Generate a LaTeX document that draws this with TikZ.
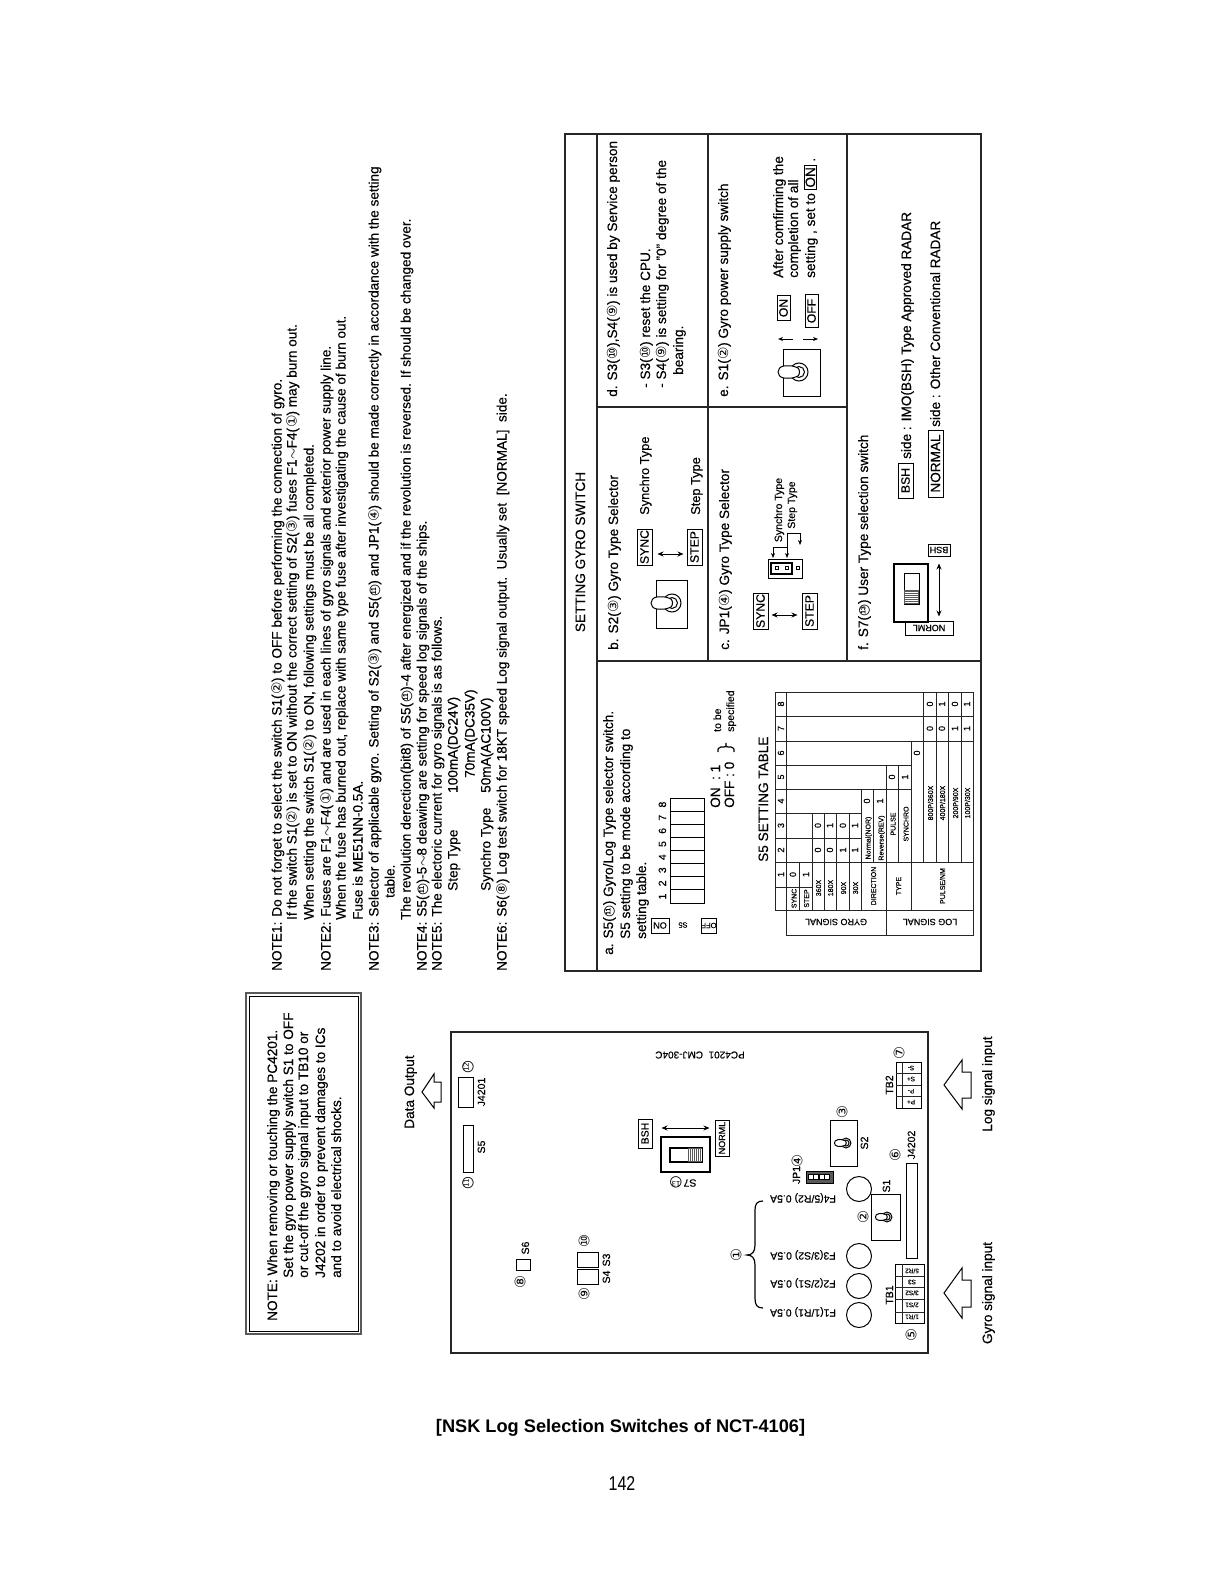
\documentclass[tikz,border=0pt]{standalone}
\usepackage{fontspec}
\setmainfont[FakeBold=0.35]{Liberation Sans}
\newfontfamily\djf{DejaVu Sans}
\newfontfamily\plainf{Liberation Sans}
\usetikzlibrary{arrows.meta}
\newcounter{tn}
\newcommand\fn{\fontsize{13.6}{15}\selectfont}
\newcommand\fl{\fontsize{13.8}{15}\selectfont}
\newcommand\fs{\fontsize{10.5}{12}\selectfont}
\newcommand\fx{\fontsize{9}{10}\selectfont}
\newcommand\ft{\fontsize{7}{8}\selectfont}
\newcommand\cn[1]{{\djf\scalebox{1.02}{#1}}}
\newcommand\cnn[1]{{\ooalign{{\djf\scalebox{1.02}{○}}\cr\hfil\raisebox{.2em}{\scalebox{.5}{#1}}\hfil\cr}}}
\newcommand\rv[1]{\rotatebox{90}{#1}}
\newcommand\ud[1]{\rotatebox{180}{#1}}
\newcommand\ib[1]{\setlength{\fboxsep}{1pt}\setlength{\fboxrule}{.8pt}\fbox{#1}}
\tikzset{
 x=1pt,y=-1pt,
 rtxt/.style={rotate=90,anchor=base west,inner sep=0pt,font=\fn},
 rtxc/.style={rotate=90,anchor=base,inner sep=0pt,font=\fs},
 udtx/.style={rotate=180,anchor=center,inner sep=0pt,font=\fs},
 circn/.style={rotate=90,anchor=center,inner sep=0pt,font=\fontsize{14.5}{15}\selectfont},
 boxn/.style={draw,rectangle,inner sep=0pt,line width=1pt,font=\fontsize{12.2}{14}\selectfont},
 frame/.style={line width=1.2pt,black!85},
 thin1/.style={line width=.8pt,black!85},
 dbl/.style={{Stealth[length=6pt,width=5pt]}-{Stealth[length=6pt,width=5pt]},line width=.9pt},
 sarr/.style={-{Stealth[length=5pt,width=4pt]},line width=.7pt},
 big/.style={line width=1pt,fill=white},
}
\newcommand\RT[4][]{\stepcounter{tn}\node[rtxt,#1] (t\arabic{tn}) at (#2,#3) {#4};}
\newcommand\RC[4][]{\stepcounter{tn}\node[rtxc,#1] (t\arabic{tn}) at (#2,#3) {#4};}
\newcommand\UD[4][]{\stepcounter{tn}\node[udtx,#1] (t\arabic{tn}) at (#2,#3) {#4};}
\newcommand\CC[4][]{\stepcounter{tn}\node[circn,#1] (t\arabic{tn}) at (#2,#3) {\djf #4};}
\newcommand\BX[7][]{\pgfmathsetmacro\bxw{#5-#3}\pgfmathsetmacro\bxh{#6-#4}%
 \node[boxn,minimum width=\bxw pt,minimum height=\bxh pt,#1] (#2) at ({(#3+#5)/2},{(#4+#6)/2}) {#7};}
\newcommand\toggle[3]{\begin{scope}[shift={(#1,#2)},scale=#3]
 \draw[line width=1pt] (0,0) circle (9);
 \draw[line width=1pt] (0,0) circle (5.5);
 \draw[line width=1pt,fill=white] (-1,-4) .. controls (-6,-6.5) and (-10,-6.5) .. (-15,-6) .. controls (-23,-5) and (-23,5) .. (-15,6) .. controls (-10,6.5) and (-6,6.5) .. (-1,4) .. controls (1,2) and (1,-2) .. (-1,-4) -- cycle;
\end{scope}}
\begin{document}
\begin{tikzpicture}
\useasboundingbox (0,0) rectangle (1221,1578);
\fill[white] (0,0) rectangle (1221,1578);
% ---------- warning note
\BX[line width=1.6pt,draw=black!65]{noteo}{246}{993}{361}{1334}{}
\BX[line width=.8pt]{notei}{249}{996}{358}{1331}{}
\begin{scope}[every node/.append style={font=\fl}]
\RT{277}{1321}{NOTE: When removing or touching the PC4201.}
\RT{293}{1278}{Set the gyro power supply switch S1 to OFF}
\RT{308}{1278}{or cut-off the gyro signal input to TB10 or}
\RT{325}{1278}{J4202 in order to prevent damages to ICs}
\RT{341}{1278}{and to avoid electrical shocks.}
\end{scope}
% ---------- notes
\begin{scope}[xshift=-1.5pt,yshift=-3pt]
\RT{283}{968}{NOTE1: Do not forget to select the switch S1(\cn{②}) to OFF before performing the connection of gyro.}
\RT{298}{917}{If the switch S1(\cn{②}) is set to ON without the correct setting of S2(\cn{③}) fuses F1$\sim$F4(\cn{①}) may burn out.}
\RT{315}{917}{When setting the switch S1(\cn{②}) to ON, following settings must be all completed.}
\RT{332}{968}{NOTE2: Fuses are F1$\sim$F4(\cn{①}) and are used in each lines of gyro signals and exterior power supply line.}
\RT{347}{917}{When the fuse has burned out, replace with same type fuse after investigating the cause of burn out.}
\RT{364}{917}{Fuse is ME51NN-0.5A.}
\RT{380}{968}{NOTE3: Selector of applicable gyro. Setting of S2(\cn{③}) and S5(\cnn{11}) and JP1(\cn{④}) should be made correctly in accordance with the setting}
\RT{396}{895}{table.}
\RT{412}{917}{The revolution derection(bit8) of S5(\cnn{11})-4 after energized and if the revolution is reversed. If should be changed over.}
\RT{428}{968}{NOTE4: S5(\cnn{11})-5$\sim$8 deawing are setting for speed log signals of the ships.}
\RT{443}{968}{NOTE5: The electoric current for gyro signals is as follows.}
\RT{459}{888}{Step Type}
\RT{459}{790}{100mA(DC24V)}
\RT{476}{775}{70mA(DC35V)}
\RT{492}{888}{Synchro Type}
\RT{492}{790}{50mA(AC100V)}
\RT{508}{968}{NOTE6: S6(\cn{⑧}) Log test switch for 18KT speed Log signal output.\ \ Usually set\ \ [NORMAL]\ \ side.}
\end{scope}
% ---------- board
\BX[frame]{board}{451}{1032}{928}{1353}{}
\RC[font=\fn]{414}{1092}{Data Output}
\draw[big] (422,1092) -- (434,1074) -- (434,1082) -- (441,1082) -- (441,1102) -- (434,1102) -- (434,1108) -- cycle;
\BX{j4201}{458}{1077}{473}{1107}{}
\RC{485}{1092}{J4201}
\CC{467}{1067}{\cnn{12}}
\BX{s5b}{463}{1125}{473}{1172}{}
\RC{485}{1147}{S5}
\CC{467}{1183}{\cnn{11}}
\UD[font=\fontsize{10}{10}\selectfont]{700}{1055}{PC4201\ \ CMJ-304C}
\BX[font=\fs]{bshb}{638}{1119}{652}{1148}{\rv{BSH}}
\BX[font=\fx]{normb}{715}{1120}{729}{1156}{\rv{NORML}}
\coordinate (s7y) at (0,1128);
\draw[dbl,shorten <=9pt,shorten >=5pt] (bshb.east |- s7y) -- (normb.west |- s7y);
\BX[line width=1.2pt]{s7b}{661}{1137}{710}{1172}{}
\BX[line width=1.2pt]{s7bi}{670}{1148}{702}{1162}{}
\fill[black!65] (688,1148) rectangle (702,1162);
\foreach \q in {689.5,691.5,...,701.5}{\draw[white,line width=.4pt] (\q,1149) -- (\q,1161);}
\UD{690}{1183}{S7}
\CC[rotate=90]{676}{1183}{\cnn{13}}
\BX{s6b}{516}{1259}{530}{1270}{}
\RC{529}{1248}{S6}
\CC{520}{1282}{⑧}
\BX{s3b}{577}{1252}{598}{1267}{}
\BX{s4b}{577}{1269}{598}{1284}{}
\RC{610}{1260}{S3}
\RC{610}{1277}{S4}
\CC{584}{1241}{⑩}
\CC{584}{1294}{⑨}
\CC{736}{1255}{①}
\draw[line width=1.2pt] (763,1201) .. controls (757,1201) and (755,1204) .. (755,1210) -- (755,1245) .. controls (755,1252) and (752,1255) .. (747,1255) .. controls (752,1255) and (755,1258) .. (755,1265) -- (755,1298) .. controls (755,1305) and (757,1308) .. (763,1308);
\UD{803}{1198}{F4(5/R2) 0.5A}
\UD{803}{1255}{F3(3/S2) 0.5A}
\UD{803}{1283}{F2(2/S1) 0.5A}
\UD{803}{1312}{F1(1/R1) 0.5A}
\foreach \nm/\yy in {f4/1189,f3/1256,f2/1286,f1/1315}{\node[draw,circle,line width=1pt,minimum size=25pt,inner sep=0pt] (\nm) at (859,\yy) {};}
\BX{s1b}{871}{1194}{900}{1240}{}
\toggle{887}{1217}{.55}
\RC{890}{1186}{S1}
\CC{863}{1217}{②}
\BX{s2b}{830}{1120}{857}{1166}{}
\toggle{846}{1143}{.55}
\RC{868}{1143}{S2}
\CC{842}{1112}{③}
\BX[fill=black!65,line width=.8pt]{jp1b}{806}{1171}{833}{1183}{}
\foreach \q in {808,813.5,819,824.5}{\draw[fill=white,line width=.5pt] (\q,1174.5) rectangle +(5,5);}
\RC{800}{1175}{JP1}
\CC{797}{1161}{④}
\BX{j4202b}{906}{1163}{917}{1258}{}
\RC{915}{1145}{J4202}
\CC{895}{1155}{⑥}
\BX{tb1}{895}{1264}{924}{1323}{}
\draw[thin1] (902,1264) -- (902,1323);
\foreach \q in {1276,1287,1299,1312}{\draw[thin1] (895,\q) -- (924,\q);}
\foreach \q/\w in {1271/{5/R2},1282/{S3},1293/{3/S2},1305/{2/S1},1317/{1/R1}}{\UD[font=\fontsize{6.5}{7}\selectfont]{912}{\q}{\w}}
\RC{893}{1295}{TB1}
\CC{911}{1335}{⑤}
\BX{tb2}{896}{1062}{921}{1108}{}
\draw[thin1] (902,1062) -- (902,1108);
\foreach \q in {1073,1085,1096}{\draw[thin1] (896,\q) -- (921,\q);}
\foreach \q/\w in {1068/S-,1079/S+,1091/P-,1102/P+}{\UD[font=\fontsize{6.5}{7}\selectfont]{911}{\q}{\w}}
\RC{893}{1085}{TB2}
\CC{899}{1053}{⑦}
\draw[big] (944,1085) -- (962,1060) -- (962,1072) -- (971,1072) -- (971,1098) -- (962,1098) -- (962,1109) -- cycle;
\draw[big] (944,1293) -- (962,1268) -- (962,1280) -- (971,1280) -- (971,1307) -- (962,1307) -- (962,1318) -- cycle;
\RC[font=\fn]{992}{1084}{Log signal input}
\RC[font=\fn]{992}{1293}{Gyro signal input}
% ---------- setting panel
\BX[frame,line width=1.4pt]{panel}{565}{134}{981}{971}{}
\draw[frame] (597,134) -- (597,971);
\draw[frame] (708,134) -- (708,661);
\draw[frame] (597,407) -- (847,407);
\draw[frame] (597,661) -- (981,661);
\draw[frame] (847,134) -- (847,661);
\RC[font=\fn]{585}{552}{SETTING GYRO SWITCH}
% b
\RT{618}{650}{b. S2(\cn{③}) Gyro Type Selector}
\BX{syncb}{637}{529}{652}{565}{\rv{SYNC}}
\BX{stepb}{687}{529}{702}{565}{\rv{STEP}}
\coordinate (by) at (0,554);
\draw[dbl,shorten <=5pt,shorten >=3pt] (syncb.east |- by) -- (stepb.west |- by);
\RT[font=\fontsize{12.8}{14}\selectfont]{649}{515}{Synchro Type}
\RT[font=\fontsize{12.8}{14}\selectfont]{700}{515}{Step Type}
\BX{togb}{656}{580}{687}{628}{}
\toggle{672}{603}{1}
% c
\RT{729}{650}{c. JP1(\cn{④}) Gyro Type Selector}
\BX{syncc}{753}{593}{768}{629}{\rv{SYNC}}
\BX{stepc}{802}{593}{817}{629}{\rv{STEP}}
\coordinate (cy) at (0,615);
\draw[dbl,shorten <=3pt,shorten >=4pt] (syncc.east |- cy) -- (stepc.west |- cy);
\BX{jpc}{768}{559}{802}{578}{}
\BX[line width=1.4pt]{jpci}{771}{563}{792}{574}{}
\foreach \q in {775,785.5,796}{\draw[fill=white,line width=.8pt] (\q,566.5) rectangle +(3,3);}
\coordinate (ca) at (773,547); \coordinate (cb) at (787,547); \coordinate (cc) at (787,533); \coordinate (cd) at (800,533);
\draw[{Stealth[length=5pt,width=4pt]}-{Stealth[length=5pt,width=4pt]},line width=.7pt] (773,558) -- (ca) -- (cb) -- (787,558);
\draw[sarr] (787,547) -- (cc) -- (cd) -- (800,545);
\RC{782}{510}{Synchro Type}
\RC{795}{505}{Step Type}
% f
\RT{868}{650}{f. S7(\cnn{13}) User Type selection switch}
\BX[font=\fx]{bshf}{928}{544}{950}{556}{\ud{BSH}}
\BX[font=\fx]{normf}{905}{621}{953}{635}{\ud{NORML}}
\BX[line width=1.2pt]{s7f}{894}{564}{928}{622}{}
\BX{s7fi}{904}{573}{919}{604}{}
\fill[black!65] (904,590) rectangle (919,604);
\foreach \q in {592,594,...,602}{\draw[white,line width=.4pt] (905,\q) -- (918,\q);}
\draw[dbl,shorten <=7pt,shorten >=4pt] (bshf.south) -- (bshf.south |- normf.north);
\BX{bshg}{898}{463}{913}{498}{\rv{BSH}}
\RT{911}{459}{side : IMO(BSH) Type Approved RADAR}
\BX[font=\fontsize{13.6}{15}\selectfont]{normg}{928}{430}{943}{497}{\rv{NORMAL}}
\RT{940}{427}{side : Other Conventional RADAR}
% d
\RT{617}{397}{d. S3(\cn{⑩}),S4(\cn{⑨}) is used by Service person}
\RT{650}{388}{- S3(\cn{⑩}) reset the CPU.}
\RT{666}{388}{- S4(\cn{⑨}) is setting for "0" degree of the}
\RT{683}{375}{bearing.}
% e
\RT{728}{397}{e. S1(\cn{②}) Gyro power supply switch}
\BX{toge}{783}{349}{820}{396}{}
\toggle{799}{372}{1}
\BX{one}{777}{296}{790}{320}{\rv{ON}}
\BX{offe}{805}{295}{818}{327}{\rv{OFF}}
\coordinate (eu) at (793,339); \coordinate (eul) at (778,339); \coordinate (ed) at (803,339); \coordinate (edl) at (818,339);
\draw[sarr] (eu) -- (eul);
\draw[sarr] (ed) -- (edl);
\RT{783}{278}{After comfirming the}
\RT{798}{278}{completion of all}
\RT{815}{278}{setting , set to \ib{ON} .}
% a
\RT{613}{955}{a. S5(\cnn{11}) Gyro/Log Type selector switch.}
\RT{630}{939}{S5 setting to be mode according to}
\RT{646}{939}{setting table.}
\BX[font=\fontsize{9}{10}\selectfont]{onA}{651}{918}{669}{933}{\ud{ON}}
\UD[font=\fontsize{7.5}{8}\selectfont]{683}{925}{S5}
\BX[font=\fontsize{7.5}{8}\selectfont]{offA}{703}{918}{715}{933}{\ud{OFF}}
\BX{dipA}{670}{798}{704}{903}{}
\foreach \i in {1,...,7}{\draw[line width=1pt] (670,{903-13.125*\i}) -- (704,{903-13.125*\i});}
\foreach \i in {1,...,8}{\RC[font=\fs]{666}{{903-6.5-13.125*(\i-1)}}{\i}}
\RT[font=\fn]{720}{808}{ON\ \ :\ 1}
\RT[font=\fn]{734}{808}{OFF\ :\ 0}
\draw[line width=1.2pt] (718,752) .. controls (718,748) .. (721,747) -- (724,747) .. controls (726,747) .. (726,743) .. controls (726,747) .. (728,747) -- (731,747) .. controls (734,748) .. (734,752);
\RT[font=\fs]{721}{732}{to be}
\RT[font=\fs]{734}{732}{specified}
\RT{768}{862}{S5 SETTING TABLE}
% table
\begin{scope}[thin1]
\draw (775,692) rectangle (786,910);
\draw (786,692) -- (973.5,692) -- (973.5,935) -- (786,935) -- (786,910);
\draw (786,910) -- (973.5,910);
\draw (886,910) -- (886,935);
\foreach \q in {716,741}{\draw (775,\q) -- (973.5,\q);}
\foreach \q in {765,789}{\draw (775,\q) -- (911,\q);}
\foreach \q in {813,838}{\draw (775,\q) -- (861,\q);}
\draw (775,862) -- (973.5,862);
\draw (775,887) -- (812,887);
\draw (799,862) -- (799,910);
\foreach \q in {812,824,836,849}{\draw (\q,813) -- (\q,910);}
\draw (861,789) -- (861,910);
\draw (873,789) -- (873,862);
\draw (886,765) -- (886,910);
\draw (898,765) -- (898,862);
\draw (911,741) -- (911,910);
\draw (923,692) -- (923,862);
\foreach \q in {936,948,961}{\draw (\q,692) -- (\q,862);}
\end{scope}
\foreach \i/\c in {1/874.5,2/850,3/825.5,4/801,5/777,6/753,7/728.5,8/704}{\RC[font=\fx]{784}{\c}{\i}}
\foreach \b/\xx/\c in {0/796/874.5,1/809/874.5,0/821/850,0/833/850,1/846/850,1/858/850,0/821/825.5,1/833/825.5,0/846/825.5,1/858/825.5,0/870/801,1/883/801,0/895/777,1/908/777,0/920/753,0/933/728.5,0/945/728.5,1/958/728.5,1/970/728.5,0/933/704,1/945/704,0/958/704,1/970/704}{\RC[font=\fx]{\xx}{\c}{\b}}
\foreach \w/\xx in {SYNC/796.5,STEP/809}{\RC[font=\ft]{\xx}{898.5}{\w}}
\foreach \w/\xx in {360X/821,180X/833,90X/846,30X/858}{\RC[font=\ft]{\xx}{888}{\w}}
\RC[font=\ft]{876}{886}{DIRECTION}
\RC[font=\ft]{901}{886}{TYPE}
\RC[font=\ft]{945}{886}{PULSE/NM}
\RC[font=\ft]{870.5}{838}{Normal(NOR)}
\RC[font=\ft]{883.5}{838}{Reverse(REV)}
\RC[font=\ft]{895.5}{824}{PULSE}
\RC[font=\ft]{908.5}{824}{SYNCHRO}
\foreach \xx/\w in {933/{800P/360X},945/{400P/180X},958/{200P/90X},970/{100P/30X}}{\RC[font=\ft]{\xx}{803}{\w}}
\UD[font=\fx]{836}{922}{GYRO SIGNAL}
\UD[font=\fx]{930}{922}{LOG SIGNAL}
% ---------- title
\node[inner sep=0pt,anchor=base,font=\fontsize{18.2}{20}\bfseries] (title) at (620.5,1432) {\plainf\bfseries [NSK Log Selection Switches of NCT-4106]};
\node[inner sep=0pt,anchor=base,font=\fontsize{20}{22}\selectfont] (pageno) at (622,1490) {\plainf\scalebox{.8}[1]{142}};
\end{tikzpicture}
\end{document}
